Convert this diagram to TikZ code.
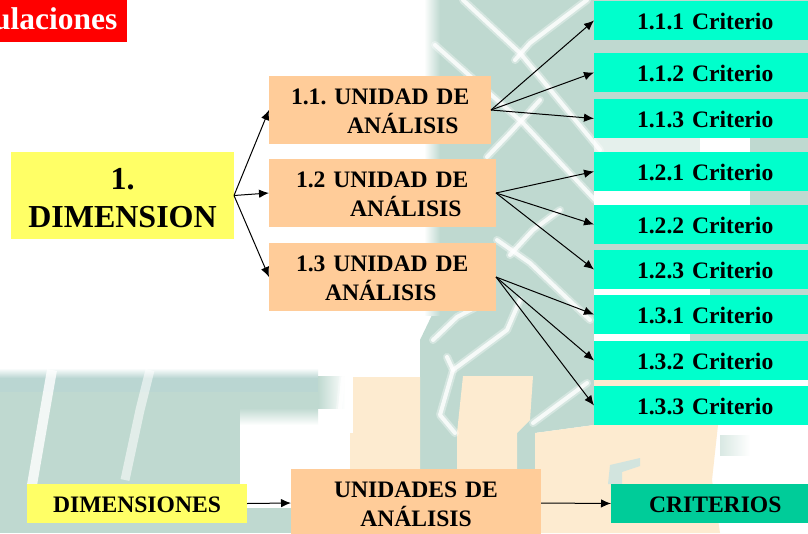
\documentclass[tikz,border=0pt]{standalone}
\usepackage{fontspec}
\setmainfont{Liberation Serif}
\usetikzlibrary{arrows.meta}
\definecolor{wmgreen}{HTML}{BFD9D0}
\definecolor{wmblue}{HTML}{BAD6D2}
\definecolor{wmcream}{HTML}{FDEBD0}
\definecolor{dimyellow}{HTML}{FFFF66}
\definecolor{unitpeach}{HTML}{FFCC99}
\definecolor{critcyan}{HTML}{00FFCC}
\definecolor{critgreen}{HTML}{00CC99}
\newcommand{\tightwords}{\frenchspacing\spaceskip=.25em\relax}
\newcommand{\lowerby}[1]{\rule{0pt}{#1}}
\tikzset{
  x=1pt,y=-1pt,
  lattice/.style={white,line width=4pt,opacity=.8,line cap=round,line join=round},
  latticesoft/.style={white,line width=8pt,opacity=.35,line cap=round,line join=round},
  boxtext/.style={anchor=north west,inner sep=0pt,outer sep=0pt,font=\bfseries\fontsize{23.6}{28.5}\selectfont\tightwords,text=black},
  critbox/.style={boxtext,fill=critcyan,text width=214pt,minimum height=39pt,align=left},
  unitbox/.style={boxtext,fill=unitpeach,minimum height=68pt,align=left},
  link/.style={black,line width=1pt,-{Latex[length=10pt,width=8.5pt]}},
}
\newcommand{\critlabel}[1]{\hspace*{43pt}\lowerby{18.5pt}#1}
\newcommand{\latticeline}[1]{\draw[latticesoft] #1; \draw[lattice] #1;}
\begin{document}
\begin{tikzpicture}
\useasboundingbox (0,0) rectangle (808,533);
\clip (0,0) rectangle (808,533);
% watermark
\fill[white] (0,0) rectangle (808,533);
\fill[wmgreen] (436,0) -- (808,0) -- (808,345) -- (594,345) -- (594,425) -- (535,433) -- (535,475) -- (420,475) -- (420,340) -- (432,315) -- cycle;
\shade[left color=white,right color=wmgreen] (424,0) rectangle (440,315);
\fill[white] (594,191) rectangle (750,205);
\fill[white] (594,289) rectangle (710,295);
\fill[white] (594,334) rectangle (690,341);
\fill[white!60!wmgreen] (594,138) rectangle (700,152);
\fill[white] (700,138) rectangle (750,152);
\fill[wmcream] (353,377) -- (420,377) -- (420,469) -- (350,469) -- (350,433) -- (353,433) -- cycle;
\fill[wmcream] (463,376) -- (533,376) -- (530,420) -- (517,433) -- (517,469) -- (457,469) -- (457,433) -- cycle;
\fill[wmcream] (535,433) -- (594,425) -- (718,425) -- (712,480) -- (720,533) -- (535,533) -- cycle;
\fill[wmcream] (335,469) rectangle (560,533);
\fill[wmcream] (594,380) rectangle (720,386);
\fill[wmgreen] (0,378) rectangle (240,533);
\fill[wmgreen] (240,378) rectangle (318,408);
\fill[wmblue] (0,378) rectangle (318,392);
\shade[top color=white,bottom color=wmblue] (0,368) rectangle (318,378);
\shade[left color=wmgreen,right color=white] (318,376) rectangle (345,408);
\shade[top color=wmgreen,bottom color=white] (240,408) rectangle (318,425);
\fill[wmgreen] (240,508) rectangle (295,533);
\shade[left color=wmgreen!60!white,right color=white] (720,435) rectangle (750,455);
\fill[wmgreen!70!white] (608,484) -- (610,465) -- (640,458) -- (640,466) -- (622,472) -- (622,484) -- cycle;
% lattice strokes
\latticeline{(463,0) -- (520,53) -- (600,150)}
\latticeline{(435,45) -- (523,123) -- (595,200)}
\latticeline{(587,0) -- (530,43) -- (515,60)}
\latticeline{(540,100) -- (510,133) -- (487,157)}
\latticeline{(497,240) -- (530,263) -- (590,320)}
\latticeline{(560,210) -- (533,230) -- (510,255)}
\latticeline{(433,340) -- (457,317) -- (480,305)}
\latticeline{(520,300) -- (507,330) -- (453,370)}
\latticeline{(447,357) -- (453,370) -- (440,415) -- (455,433)}
\latticeline{(533,423) -- (587,383)}
\draw[white,line width=10pt,opacity=.8] (52,370) -- (45,410) -- (32,485);
\draw[white,line width=9pt,opacity=.55] (150,370) -- (140,410) -- (125,480);
\latticeline{(343,378) -- (338,430)}
% title tab
\fill[red] (0,0) rectangle (127,42);
\node[anchor=base east,inner sep=0pt,text=white,font=\bfseries\fontsize{31.5}{31.5}\selectfont] (title) at (117.5,29) {ulaciones};
% main dimension
\node[boxtext,fill=dimyellow,minimum width=223pt,minimum height=87pt,align=center,text width=223pt,font=\bfseries\fontsize{32}{38}\selectfont] (dim) at (11,152) {\lowerby{26pt}1.\\DIMENSION};
% units
\node[unitbox,text width=222pt] (u1) at (269,76) {\hspace*{22pt}\lowerby{18.5pt}1.1. UNIDAD DE\\\hspace*{78pt}ANÁLISIS};
\node[unitbox,text width=227pt] (u2) at (269,159) {\hspace*{27pt}\lowerby{18.5pt}1.2 UNIDAD DE\\\hspace*{81pt}ANÁLISIS};
\node[unitbox,text width=227pt] (u3) at (269,243) {\hspace*{27pt}\lowerby{18.5pt}1.3 UNIDAD DE\\\hspace*{56pt}ANÁLISIS};
% criteria
\node[critbox] (c11) at (594,1) {\critlabel{1.1.1 Criterio}};
\node[critbox] (c12) at (594,53) {\critlabel{1.1.2 Criterio}};
\node[critbox] (c13) at (594,99) {\critlabel{1.1.3 Criterio}};
\node[critbox] (c21) at (594,152) {\critlabel{1.2.1 Criterio}};
\node[critbox] (c22) at (594,205) {\critlabel{1.2.2 Criterio}};
\node[critbox] (c23) at (594,250) {\critlabel{1.2.3 Criterio}};
\node[critbox] (c31) at (594,295) {\critlabel{1.3.1 Criterio}};
\node[critbox] (c32) at (594,341) {\critlabel{1.3.2 Criterio}};
\node[critbox] (c33) at (594,386) {\critlabel{1.3.3 Criterio}};
% legend
\node[boxtext,fill=dimyellow,text width=220pt,minimum height=39pt,align=center] (ld) at (27,484) {\lowerby{18.5pt}DIMENSIONES};
\node[boxtext,fill=unitpeach,text width=250pt,minimum height=68pt,align=center] (lu) at (291,469) {\lowerby{18.5pt}UNIDADES DE\\ANÁLISIS};
\node[boxtext,fill=critgreen,text width=197pt,minimum height=39pt,align=left] (lc) at (611,484) {\hspace*{38pt}\lowerby{18.5pt}CRITERIOS};
% connectors
\foreach \t in {u1,u2,u3} \draw[link] (dim.east) -- (\t.west);
\foreach \t in {c11,c12,c13} \draw[link] (u1.east) -- (\t.west);
\foreach \t in {c21,c22,c23} \draw[link] (u2.east) -- (\t.west);
\foreach \t in {c31,c32,c33} \draw[link] (u3.east) -- (\t.west);
\draw[link] (ld.east) -- (lu.west);
\draw[link] (lu.east) -- (lc.west);
\end{tikzpicture}
\end{document}
